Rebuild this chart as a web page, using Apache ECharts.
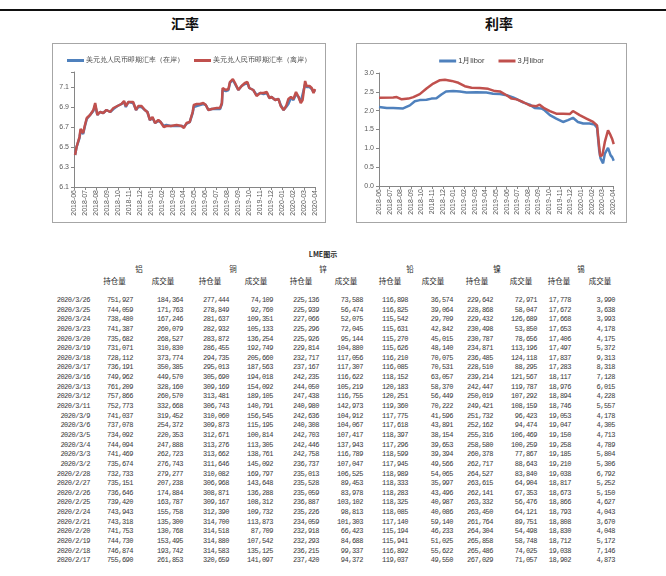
<!DOCTYPE html>
<html><head><meta charset="utf-8">
<script src="https://cdn.jsdelivr.net/npm/echarts@6/dist/echarts.min.js"></script>
<style>
html,body{margin:0;padding:0;background:#fff;width:666px;height:576px;overflow:hidden;font-family:"Noto Sans CJK SC",sans-serif;}
#topline{position:absolute;left:0;top:9px;width:666px;height:2px;background:#111;}
.title{position:absolute;top:13px;font-size:14px;font-weight:bold;color:#111;transform:translateX(-50%);white-space:nowrap;}
.box{position:absolute;border:1px solid #a6a6a6;}
.num{position:absolute;white-space:nowrap;font-family:"Liberation Mono",monospace;font-size:7px;letter-spacing:-0.5px;color:#383838;line-height:9px;transform:translateX(-100%);}
.hdr{position:absolute;white-space:nowrap;font-size:7.5px;color:#2a2a2a;line-height:9px;transform:translateX(-50%);}
</style></head>
<body>
<div id="topline"></div>
<div class="title" style="left:185px">汇率</div>
<div class="title" style="left:499px">利率</div>
<div class="box" id="fx" style="left:52px;top:43px;width:272px;height:178px"></div>
<div class="box" id="libor" style="left:356px;top:43px;width:269px;height:178px"></div>
<div id="table"></div>
<script>
// ---------- chart data ----------
const monthLabels = ["2018-06","2018-07","2018-08","2018-09","2018-10","2018-11","2018-12","2019-01","2019-02","2019-03","2019-04","2019-05","2019-06","2019-07","2019-08","2019-09","2019-10","2019-11","2019-12","2020-01","2020-02","2020-03","2020-04"];

const fxDates = ["2018-06-04","2018-06-08","2018-06-16","2018-06-19","2018-06-26","2018-07-01","2018-07-06","2018-07-15","2018-07-24","2018-07-29","2018-08-05","2018-08-12","2018-08-21","2018-08-30","2018-09-10","2018-09-19","2018-09-30","2018-10-11","2018-10-18","2018-10-23","2018-10-30","2018-11-13","2018-11-21","2018-11-27","2018-12-06","2018-12-15","2018-12-22","2018-12-29","2019-01-06","2019-01-13","2019-01-22","2019-01-28","2019-02-07","2019-02-14","2019-02-26","2019-03-12","2019-03-26","2019-04-02","2019-04-09","2019-04-18","2019-04-26","2019-04-29","2019-05-07","2019-05-16","2019-05-25","2019-06-02","2019-06-09","2019-06-18","2019-07-02","2019-07-11","2019-07-16","2019-07-18","2019-07-27","2019-08-04","2019-08-08","2019-08-16","2019-08-22","2019-09-01","2019-09-10","2019-09-19","2019-09-26","2019-10-01","2019-10-12","2019-10-21","2019-10-31","2019-11-10","2019-11-19","2019-11-26","2019-12-02","2019-12-12","2019-12-21","2019-12-27","2020-01-05","2020-01-12","2020-01-18","2020-01-25","2020-02-02","2020-02-09","2020-02-16","2020-02-22","2020-02-27","2020-03-04","2020-03-08","2020-03-16","2020-03-22","2020-03-27","2020-04-01"];
const fxOnshore = [6.42,6.50,6.59,6.66,6.63,6.71,6.78,6.82,6.86,6.92,6.82,6.85,6.84,6.87,6.85,6.88,6.91,6.93,6.95,6.90,6.95,6.94,6.87,6.90,6.90,6.87,6.85,6.77,6.79,6.74,6.76,6.75,6.71,6.72,6.71,6.71,6.71,6.70,6.73,6.75,6.84,6.90,6.91,6.92,6.93,6.92,6.87,6.88,6.88,6.88,6.93,7.07,7.06,7.07,7.14,7.17,7.13,7.07,7.11,7.13,7.14,7.09,7.07,7.02,7.04,7.03,7.04,6.99,7.00,6.97,6.98,6.92,6.87,6.90,6.93,6.99,6.97,7.03,7.00,6.95,6.97,7.13,7.10,7.10,7.08,7.05,7.07];
const fxOffshore = [6.42,6.50,6.60,6.68,6.64,6.72,6.79,6.82,6.87,6.94,6.82,6.85,6.84,6.87,6.85,6.89,6.91,6.93,6.96,6.91,6.95,6.95,6.87,6.91,6.91,6.87,6.85,6.77,6.80,6.74,6.77,6.75,6.70,6.71,6.71,6.72,6.71,6.69,6.74,6.75,6.85,6.92,6.93,6.93,6.94,6.92,6.87,6.88,6.89,6.89,6.94,7.09,7.07,7.08,7.15,7.18,7.14,7.07,7.11,7.14,7.15,7.09,7.07,7.01,7.04,7.04,7.05,6.99,7.00,6.97,6.98,6.91,6.87,6.91,6.98,7.00,6.98,7.05,7.00,6.94,6.97,7.16,7.11,7.11,7.09,7.04,7.08];

const libor1Dates = ["2018-06-01","2018-06-23","2018-07-11","2018-08-09","2018-08-28","2018-09-12","2018-09-26","2018-10-15","2018-10-29","2018-11-13","2018-11-27","2018-12-10","2018-12-30","2019-01-19","2019-02-08","2019-03-06","2019-04-04","2019-04-23","2019-05-12","2019-05-31","2019-06-19","2019-07-03","2019-07-17","2019-08-06","2019-08-20","2019-09-09","2019-09-18","2019-10-03","2019-10-21","2019-11-10","2019-11-24","2019-12-08","2019-12-22","2020-01-07","2020-01-25","2020-02-09","2020-02-16","2020-02-22","2020-02-26","2020-03-03","2020-03-08","2020-03-17","2020-03-24","2020-03-29","2020-04-03"];
const libor1M = [2.10,2.07,2.07,2.06,2.14,2.25,2.28,2.29,2.32,2.33,2.43,2.51,2.52,2.51,2.48,2.49,2.48,2.45,2.44,2.41,2.35,2.29,2.22,2.16,2.07,2.06,2.01,1.88,1.79,1.70,1.75,1.81,1.70,1.66,1.66,1.63,1.55,0.95,0.73,0.60,0.86,1.01,0.82,0.76,0.67];

const libor3Dates = ["2018-06-01","2018-07-11","2018-07-21","2018-08-05","2018-08-24","2018-09-08","2018-09-26","2018-10-15","2018-11-04","2018-11-23","2018-12-07","2018-12-26","2019-01-15","2019-02-03","2019-02-22","2019-03-15","2019-04-09","2019-04-28","2019-05-12","2019-05-31","2019-06-15","2019-06-29","2019-07-17","2019-08-06","2019-08-25","2019-09-04","2019-09-18","2019-10-03","2019-10-21","2019-11-10","2019-11-29","2019-12-08","2019-12-27","2020-01-16","2020-02-05","2020-02-16","2020-02-22","2020-02-25","2020-03-01","2020-03-08","2020-03-12","2020-03-17","2020-03-24","2020-03-29","2020-04-03"];
const libor3M = [2.34,2.35,2.36,2.30,2.32,2.36,2.44,2.59,2.72,2.81,2.82,2.79,2.74,2.65,2.61,2.60,2.58,2.52,2.51,2.41,2.32,2.30,2.23,2.14,2.12,2.16,2.06,1.99,1.92,1.92,1.91,1.99,1.88,1.79,1.70,1.61,1.04,0.79,0.82,1.17,1.22,1.48,1.35,1.24,1.11];

// ---------- table data ----------
const metals = ["铝","铜","锌","铅","镍","锡"];
const subHeads = ["持仓量","成交量"];
const tableDates = ["2020/3/26","2020/3/25","2020/3/24","2020/3/23","2020/3/20","2020/3/19","2020/3/18","2020/3/17","2020/3/16","2020/3/13","2020/3/12","2020/3/11","2020/3/9","2020/3/6","2020/3/5","2020/3/4","2020/3/3","2020/3/2","2020/2/28","2020/2/27","2020/2/26","2020/2/25","2020/2/24","2020/2/21","2020/2/20","2020/2/19","2020/2/18","2020/2/17"];
const alOI = [751927,744059,738480,741387,735682,731071,728112,736191,749962,761209,757866,752773,741037,737078,734092,744094,741469,735674,732733,735151,736646,739420,743943,743318,741753,744730,746874,755690];
const alVol = [184364,171763,167246,260079,268527,310830,373774,350385,449570,328160,260570,332668,319452,254372,220353,247888,262723,276743,279277,207238,174884,163787,155758,135300,130768,153495,193742,261853];
const cuOI = [277444,278849,281637,282932,283872,286455,294735,295013,305690,309169,313481,306743,310060,309873,312671,313276,313662,311646,310082,306968,308871,309167,312390,314700,314518,314880,314583,320659];
const cuVol = [74109,92760,109351,105133,136254,192749,205660,187563,194018,154092,189105,140791,156545,115195,100814,113305,138761,145092,169797,143648,136288,108312,109732,113873,87709,107542,135125,141097];
const znOI = [225136,225939,227066,225296,225926,229814,232717,237167,242235,244050,247438,240980,242636,240308,242703,242446,242758,236737,235013,235528,235059,236887,235226,234059,232918,232293,236215,237420];
const znVol = [73588,56474,52075,72045,95144,104880,117056,117307,116622,105219,116755,142973,104912,104067,107417,137943,116789,107047,106525,89453,83978,103102,98813,101303,66423,84688,99337,94372];
const pbOI = [116898,116825,115542,115631,115270,115626,116210,116085,118152,120183,120251,119360,117775,117618,118397,117296,118599,117945,118989,118333,118283,118325,118085,117140,115194,115941,116892,119037];
const pbVol = [36574,39064,29709,42842,45015,48140,70075,70531,63057,58370,56449,70222,41596,43891,38154,39653,39394,49566,54065,35997,43496,40987,40086,59140,46233,51025,55622,49550];
const niOI = [229642,228868,229432,230498,230787,234871,236485,228510,239214,242447,250019,249421,251732,252162,255316,258580,260378,262717,264527,263615,262141,263332,263450,261764,264304,265858,265486,267029];
const niVol = [72971,58047,126689,53850,78656,113196,124118,88295,121567,119787,107292,108159,96423,94474,106469,100259,77867,88643,83840,64904,67353,56476,64121,89751,54498,58748,74025,71057];
const snOI = [17778,17672,17668,17653,17406,17497,17837,17283,18117,18976,18894,18746,19053,19047,19150,19258,19185,19210,19038,18817,18673,18866,18793,18808,18830,18712,19038,18902];
const snVol = [3990,3638,3993,4178,4175,5372,9313,8318,7128,6015,4228,5557,4178,4305,4713,4789,5804,5306,6792,5252,5150,4627,4043,3670,4048,5172,7146,4873];

// ---------- helpers ----------
function toMonth(s){const p=s.split('-').map(Number);return (p[0]-2018)*12+(p[1]-6)+(p[2]-1)/30;}
function pairs(dates,vals){return dates.map((d,i)=>[toMonth(d),vals[i]]);}
const axisCol='#868686', labCol='#595959';
function xAxis(){return {type:'value',min:0,max:22,interval:1,
  axisLine:{lineStyle:{color:axisCol}},axisTick:{length:3,lineStyle:{color:axisCol}},splitLine:{show:false},
  axisLabel:{rotate:90,fontSize:7,color:labCol,margin:3,fontFamily:'Liberation Sans',
    formatter:v=>monthLabels[Math.round(v)]||''}};}
function yAxis(min,max,iv){return {type:'value',min:min,max:max,interval:iv,
  axisLine:{show:true,lineStyle:{color:axisCol}},axisTick:{show:true,length:3,lineStyle:{color:axisCol}},splitLine:{show:false},
  axisLabel:{fontSize:7,color:labCol,margin:5,fontFamily:'Liberation Sans',
    formatter:v=>{const k=(v-min)/iv;return Math.abs(k-Math.round(k))<1e-6?v.toFixed(1):'';}}};}
function line(name,data,color){return {name:name,type:'line',data:data,showSymbol:false,symbol:'none',
  lineStyle:{width:2.5,color:color},itemStyle:{color:color},animation:false};}
const BLUE='#4F81BD', RED='#C0504D';

const fx = echarts.init(document.getElementById('fx'),null,{renderer:'canvas'});
fx.setOption({animation:false,
  legend:{top:8,left:'center',itemWidth:17,itemHeight:3,itemGap:10,icon:'rect',
    textStyle:{fontSize:6.5,color:'#404040',padding:[0,0,0,-3]}},
  grid:{left:21,right:10,top:28,bottom:35},
  xAxis:xAxis(), yAxis:yAxis(6.1,7.25,0.2),
  series:[line('美元兑人民币即期汇率（在岸）',pairs(fxDates,fxOnshore),BLUE),
          line('美元兑人民币即期汇率（离岸）',pairs(fxDates,fxOffshore),RED)]});

const lb = echarts.init(document.getElementById('libor'),null,{renderer:'canvas'});
lb.setOption({animation:false,
  legend:{top:8,left:'center',itemWidth:17,itemHeight:3,itemGap:14,icon:'rect',
    textStyle:{fontSize:7.5,color:'#404040',padding:[0,0,0,-3]}},
  grid:{left:22,right:13,top:29,bottom:36},
  xAxis:xAxis(), yAxis:yAxis(0,3,0.5),
  series:[line('1月libor',pairs(libor1Dates,libor1M),BLUE),
          line('3月libor',pairs(libor3Dates,libor3M),RED)]});

// ---------- table ----------
const tbl=document.getElementById('table');
function add(cls,txt,x,y,extra){const d=document.createElement('div');d.className=cls;d.textContent=txt;d.style.left=x+'px';d.style.top=y+'px';if(extra)Object.assign(d.style,extra);tbl.appendChild(d);}
add('hdr','LME图示',323,250,{fontWeight:'bold',fontSize:'7px'});
const metalX=[139,233,323,410,497,581];
const headX=[114.5,163,210,256,301,346,390,433,477,521,559,600];
metals.forEach((m,i)=>add('hdr',m,metalX[i],264));
headX.forEach((x,i)=>add('hdr',subHeads[i%2],x,276));
const cols=[alOI,alVol,cuOI,cuVol,znOI,znVol,pbOI,pbVol,niOI,niVol,snOI,snVol];
const colRight=[133,183,229,273,319,363,408,453,493,537,571,615];
const fmt=n=>n.toLocaleString('en-US');
tableDates.forEach((d,r)=>{
  const y=296+r*9.64;
  add('num',d,90,y);
  cols.forEach((c,j)=>add('num',fmt(c[r]),colRight[j],y));
});
</script>
</body></html>
